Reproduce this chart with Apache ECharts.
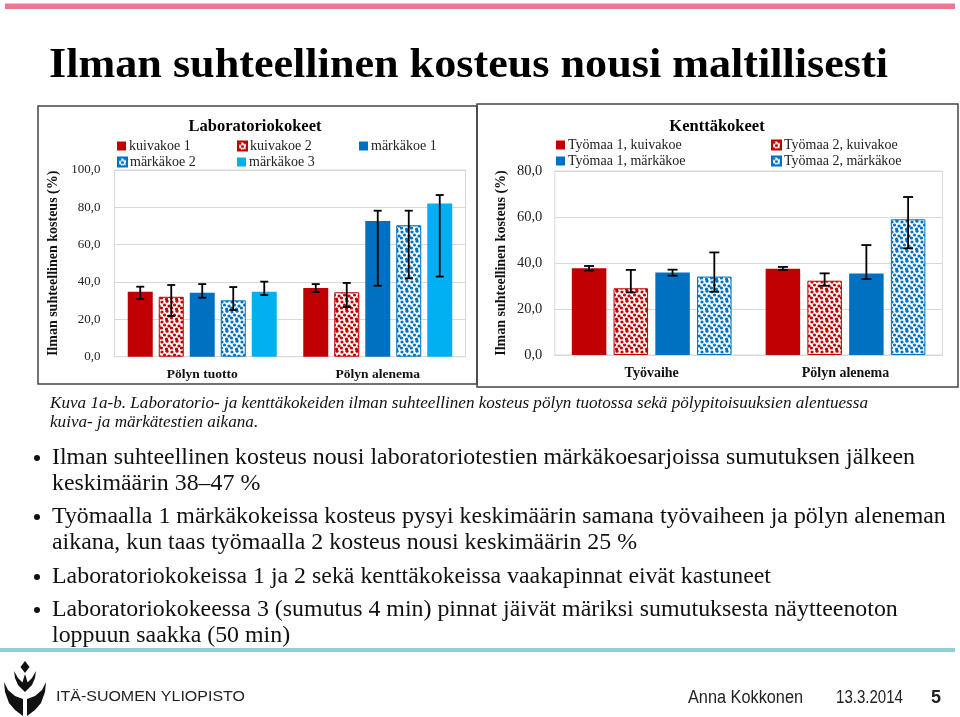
<!DOCTYPE html>
<html><head><meta charset="utf-8">
<script src="https://cdn.jsdelivr.net/npm/echarts@6/dist/echarts.min.js"></script>
<style>html,body{margin:0;padding:0;background:#fff}#c{width:960px;height:717px}</style>
</head><body><div id="c"></div>
<script>
// ---------- DATA ----------
const labCategories = ['Pölyn tuotto', 'Pölyn alenema'];
const labNames = ['kuivakoe 1', 'kuivakoe 2', 'märkäkoe 1', 'märkäkoe 2', 'märkäkoe 3'];
const labKuiva1 = [34.8, 36.8];
const labKuiva2 = [32.1, 34.5];
const labMarka1 = [34.3, 72.7];
const labMarka2 = [30.2, 70.4];
const labMarka3 = [34.8, 82.1];
const labKuiva1Err = [[30.9, 37.5], [34.6, 38.9]];
const labKuiva2Err = [[21.8, 38.4], [26.6, 39.5]];
const labMarka1Err = [[31.6, 38.9], [38.0, 78.2]];
const labMarka2Err = [[25.0, 37.3], [42.0, 78.2]];
const labMarka3Err = [[33.0, 40.2], [42.9, 86.6]];
const labTicks = [0, 20, 40, 60, 80, 100];

const fieldCategories = ['Työvaihe', 'Pölyn alenema'];
const fieldNames = ['Työmaa 1, kuivakoe', 'Työmaa 2, kuivakoe', 'Työmaa 1, märkäkoe', 'Työmaa 2, märkäkoe'];
const fieldT1Kuiva = [37.7, 37.5];
const fieldT2Kuiva = [29.0, 32.3];
const fieldT1Marka = [35.9, 35.4];
const fieldT2Marka = [34.1, 59.0];
const fieldT1KuivaErr = [[36.7, 38.7], [37.0, 38.3]];
const fieldT2KuivaErr = [[27.2, 37.0], [30.1, 35.5]];
const fieldT1MarkaErr = [[34.5, 37.1], [33.0, 47.8]];
const fieldT2MarkaErr = [[27.5, 44.6], [46.4, 68.7]];
const fieldTicks = [0, 20, 40, 60, 80];

const slideTitle = 'Ilman suhteellinen kosteus nousi maltillisesti';
const axisName = 'Ilman suhteellinen kosteus (%)';
const captionLines = ['Kuva 1a-b. Laboratorio- ja kenttäkokeiden ilman suhteellinen kosteus pölyn tuotossa sekä pölypitoisuuksien alentuessa',
  'kuiva- ja märkätestien aikana.'];
const bullets = [
  ['Ilman suhteellinen kosteus nousi laboratoriotestien märkäkoesarjoissa sumutuksen jälkeen', 'keskimäärin 38–47 %'],
  ['Työmaalla 1 märkäkokeissa kosteus pysyi keskimäärin samana työvaiheen ja pölyn aleneman', 'aikana, kun taas työmaalla 2 kosteus nousi keskimäärin 25 %'],
  ['Laboratoriokokeissa 1 ja 2 sekä kenttäkokeissa vaakapinnat eivät kastuneet'],
  ['Laboratoriokokeessa 3 (sumutus 4 min) pinnat jäivät märiksi sumutuksesta näytteenoton', 'loppuun saakka (50 min)']
];

// ---------- STYLE ----------
const RED = '#c00000', BLUE = '#0070c0', CYAN = '#00b0f0';
const SERIF = '"Liberation Serif", "DejaVu Serif", serif';
const SANS = '"Liberation Sans", Arial, sans-serif';

function pattern(color) {
  const c = document.createElement('canvas');
  c.width = 10; c.height = 10;
  const g = c.getContext('2d');
  g.fillStyle = '#fff'; g.fillRect(0, 0, 10, 10);
  g.fillStyle = color;
  const r = 1.6;
  [[2, 2], [7, 1.2], [4.5, 5], [9, 6], [1.5, 8], [6.5, 9]].forEach(p => {
    [[0, 0], [-10, 0], [10, 0], [0, -10], [0, 10]].forEach(d => {
      g.beginPath(); g.arc(p[0] + d[0], p[1] + d[1], r, 0, Math.PI * 2); g.fill();
    });
  });
  return { image: c, repeat: 'repeat' };
}
const mc = document.createElement('canvas').getContext('2d');
function measure(text, font) { mc.font = font; return mc.measureText(text).width; }

const fmt = v => v.toFixed(1).replace('.', ',');

// chart geometry
const L = { left: 114.5, top: 170, width: 351, height: 186.7, bw: 25, gapPct: 0.24 };
const R = { left: 554.8, top: 171, width: 387.6, height: 184, bw: 34.5, gapPct: 0.21 };

function barSeries(name, data, color, axisIdx, geom, patterned) {
  return {
    name, type: 'bar', xAxisIndex: axisIdx, yAxisIndex: axisIdx, data,
    barWidth: geom.bw, barGap: (geom.gapPct * 100) + '%',
    itemStyle: patterned ? { color: pattern(color), borderColor: color, borderWidth: 1 } : { color },
    emphasis: { disabled: true }, z: 2
  };
}
function errSeries(errs, idx, n, axisIdx, geom, cap) {
  const step = geom.bw * (1 + geom.gapPct);
  const off = (idx - (n - 1) / 2) * step;
  return {
    type: 'custom', xAxisIndex: axisIdx, yAxisIndex: axisIdx, z: 5, silent: true,
    data: errs.map((e, i) => [i, e[0], e[1]]),
    renderItem: (params, api) => {
      const lo = api.coord([api.value(0), api.value(1)]);
      const hi = api.coord([api.value(0), api.value(2)]);
      const x = lo[0] + off;
      const st = { stroke: '#000', lineWidth: 1.8 };
      return { type: 'group', children: [
        { type: 'line', shape: { x1: x, y1: lo[1], x2: x, y2: hi[1] }, style: st },
        { type: 'line', shape: { x1: x - cap / 2, y1: lo[1], x2: x + cap / 2, y2: lo[1] }, style: st },
        { type: 'line', shape: { x1: x - cap / 2, y1: hi[1], x2: x + cap / 2, y2: hi[1] }, style: st }
      ]};
    }
  };
}

const labSeriesData = [labKuiva1, labKuiva2, labMarka1, labMarka2, labMarka3];
const labErrData = [labKuiva1Err, labKuiva2Err, labMarka1Err, labMarka2Err, labMarka3Err];
const labColors = [RED, RED, BLUE, BLUE, CYAN];
const labPat = [false, true, false, true, false];
const fieldSeriesData = [fieldT1Kuiva, fieldT2Kuiva, fieldT1Marka, fieldT2Marka];
const fieldErrData = [fieldT1KuivaErr, fieldT2KuivaErr, fieldT1MarkaErr, fieldT2MarkaErr];
const fieldColors = [RED, RED, BLUE, BLUE];
const fieldPat = [false, true, false, true];

const series = [];
labNames.forEach((n, i) => series.push(barSeries(n, labSeriesData[i], labColors[i], 0, L, labPat[i])));
labNames.forEach((n, i) => series.push(errSeries(labErrData[i], i, labNames.length, 0, L, 8)));
fieldNames.forEach((n, i) => series.push(barSeries(n, fieldSeriesData[i], fieldColors[i], 1, R, fieldPat[i])));
fieldNames.forEach((n, i) => series.push(errSeries(fieldErrData[i], i, fieldNames.length, 1, R, 10)));

// legends (one per item, positioned in columns)
const legPos = [
  [labNames[0], 117, 139], [labNames[1], 237, 139], [labNames[2], 359, 139],
  [labNames[3], 117, 155], [labNames[4], 237, 155],
  [fieldNames[0], 556, 138], [fieldNames[1], 771, 138],
  [fieldNames[2], 556, 154], [fieldNames[3], 771, 154]
];
const legends = legPos.map(p => ({
  data: [p[0]], left: p[1], top: p[2], padding: 0, icon: 'rect', itemWidth: 9, itemHeight: 9,
  itemGap: 0, selectedMode: false,
  textStyle: { fontFamily: SERIF, fontSize: 14, color: '#222', padding: [0, 0, 0, -2] }
}));

function yAxis(gridIdx, max, fontSize, nameGap, margin) {
  return {
    type: 'value', gridIndex: gridIdx, min: 0, max, interval: 20,
    axisLabel: { formatter: fmt, fontFamily: SERIF, fontSize, color: '#222', margin },
    axisLine: { show: false }, axisTick: { show: false },
    splitLine: { lineStyle: { color: '#d9d9d9', width: 1 } },
    name: axisName, nameLocation: 'middle', nameRotate: 90, nameGap,
    nameTextStyle: { fontFamily: SERIF, fontWeight: 'bold', fontSize: 14, color: '#111' }
  };
}
function xAxis(gridIdx, cats, fontSize) {
  return {
    type: 'category', gridIndex: gridIdx, data: cats,
    axisLine: { lineStyle: { color: '#d9d9d9' } }, axisTick: { show: false },
    axisLabel: { fontFamily: SERIF, fontWeight: 'bold', fontSize, color: '#111', margin: 11 }
  };
}

// ---------- graphics (slide decoration and text) ----------
const graphics = [];
graphics.push({ type: 'rect', shape: { x: 5, y: 3.5, width: 950, height: 5.5 }, style: { fill: '#ef7594' } });
graphics.push({ type: 'rect', shape: { x: 0, y: 648, width: 955, height: 4 }, style: { fill: '#93cdd8' } });
// chart frames
graphics.push({ type: 'rect', shape: { x: 38, y: 106, width: 439, height: 278 }, style: { fill: 'none', stroke: '#444', lineWidth: 1.5 }, z: 10 });
graphics.push({ type: 'rect', shape: { x: 477, y: 104, width: 481, height: 283 }, style: { fill: 'none', stroke: '#444', lineWidth: 1.5 }, z: 10 });

function addText(text, x, y, opts, targetW) {
  const font = (opts.fontStyle || 'normal') + ' ' + (opts.fontWeight || 'normal') + ' ' + opts.fontSize + 'px ' + opts.fontFamily;
  let sx = 1;
  if (targetW) sx = targetW / measure(text, font);
  if (opts.scaleX) sx = opts.scaleX;
  graphics.push({ type: 'text', x, y, scaleX: sx, z: 20, style: Object.assign({ text, fill: opts.fill || '#000', verticalAlign: 'middle', align: opts.align || 'left' },
    { fontSize: opts.fontSize, fontFamily: opts.fontFamily, fontWeight: opts.fontWeight || 'normal', fontStyle: opts.fontStyle || 'normal' }) });
  return sx;
}
// Title
addText(slideTitle, 49, 66, { fontSize: 43, fontFamily: SERIF, fontWeight: 'bold' }, 839);
// chart titles
addText('Laboratoriokokeet', 255, 127, { fontSize: 16.5, fontFamily: SERIF, fontWeight: 'bold', align: 'center' });
addText('Kenttäkokeet', 717, 127, { fontSize: 16.5, fontFamily: SERIF, fontWeight: 'bold', align: 'center' });
// caption
const capOpts = { fontSize: 17.5, fontFamily: SERIF, fontStyle: 'italic', fill: '#111' };
const capSx = addText(captionLines[0], 50, 403, capOpts, 818);
addText(captionLines[1], 50, 422, Object.assign({ scaleX: capSx }, capOpts));
// bullets
const bOpts = { fontSize: 23, fontFamily: SERIF, fill: '#111' };
const bSx = 863 / measure(bullets[0][0], 'normal normal 23px ' + SERIF);
const bulletY = [[458, 484], [517, 543], [577], [610, 636]];
bullets.forEach((lines, bi) => {
  graphics.push({ type: 'circle', shape: { cx: 37, cy: bulletY[bi][0], r: 3 }, style: { fill: '#111' }, z: 20 });
  lines.forEach((t, li) => addText(t, 52, bulletY[bi][li], Object.assign({ scaleX: bSx }, bOpts)));
});
// footer
addText('ITÄ-SUOMEN YLIOPISTO', 56, 697, { fontSize: 15, fontFamily: SANS, fill: '#222' }, 189);
addText('Anna Kokkonen', 688, 698, { fontSize: 18, fontFamily: SANS, fill: '#222' }, 115);
addText('13.3.2014', 836, 698, { fontSize: 18, fontFamily: SANS, fill: '#222' }, 67);
addText('5', 931, 698, { fontSize: 18, fontFamily: SANS, fontWeight: 'bold', fill: '#222' });
// logo (stylised, polygons)
const LOGO = '#111';
graphics.push({ type: 'polygon', shape: { points: [[25, 661], [29.5, 667], [25, 673], [20.5, 667]] }, style: { fill: LOGO }, z: 20 });
graphics.push({ type: 'polygon', shape: { points: [[14, 671], [15, 678], [18, 685], [25, 692], [32, 685], [35, 678], [36, 671], [32, 678], [28, 682], [25, 683], [22, 682], [18, 678]] }, style: { fill: LOGO }, z: 20 });
graphics.push({ type: 'polygon', shape: { points: [[25, 674], [27.5, 682], [25, 686], [22.5, 682]] }, style: { fill: LOGO }, z: 20 });
graphics.push({ type: 'polygon', shape: { points: [[4, 682], [5, 692], [9, 703], [15, 710], [23, 716], [23, 699], [15, 696], [8, 690]] }, style: { fill: LOGO }, z: 20 });
graphics.push({ type: 'polygon', shape: { points: [[46, 682], [45, 692], [41, 703], [35, 710], [27, 716], [27, 699], [35, 696], [42, 690]] }, style: { fill: LOGO }, z: 20 });

const option = {
  animation: false,
  backgroundColor: '#fff',
  grid: [
    { left: L.left, top: L.top, width: L.width, height: L.height, show: true, borderColor: '#d9d9d9', borderWidth: 1, containLabel: false },
    { left: R.left, top: R.top, width: R.width, height: R.height, show: true, borderColor: '#d9d9d9', borderWidth: 1, containLabel: false }
  ],
  xAxis: [xAxis(0, labCategories, 13.5), xAxis(1, fieldCategories, 14)],
  yAxis: [yAxis(0, 100, 13, 54, 14), yAxis(1, 80, 14.5, 46, 12.5)],
  legend: legends,
  series,
  graphic: graphics
};
const chart = echarts.init(document.getElementById('c'), null, { renderer: 'canvas' });
chart.setOption(option);
</script></body></html>
